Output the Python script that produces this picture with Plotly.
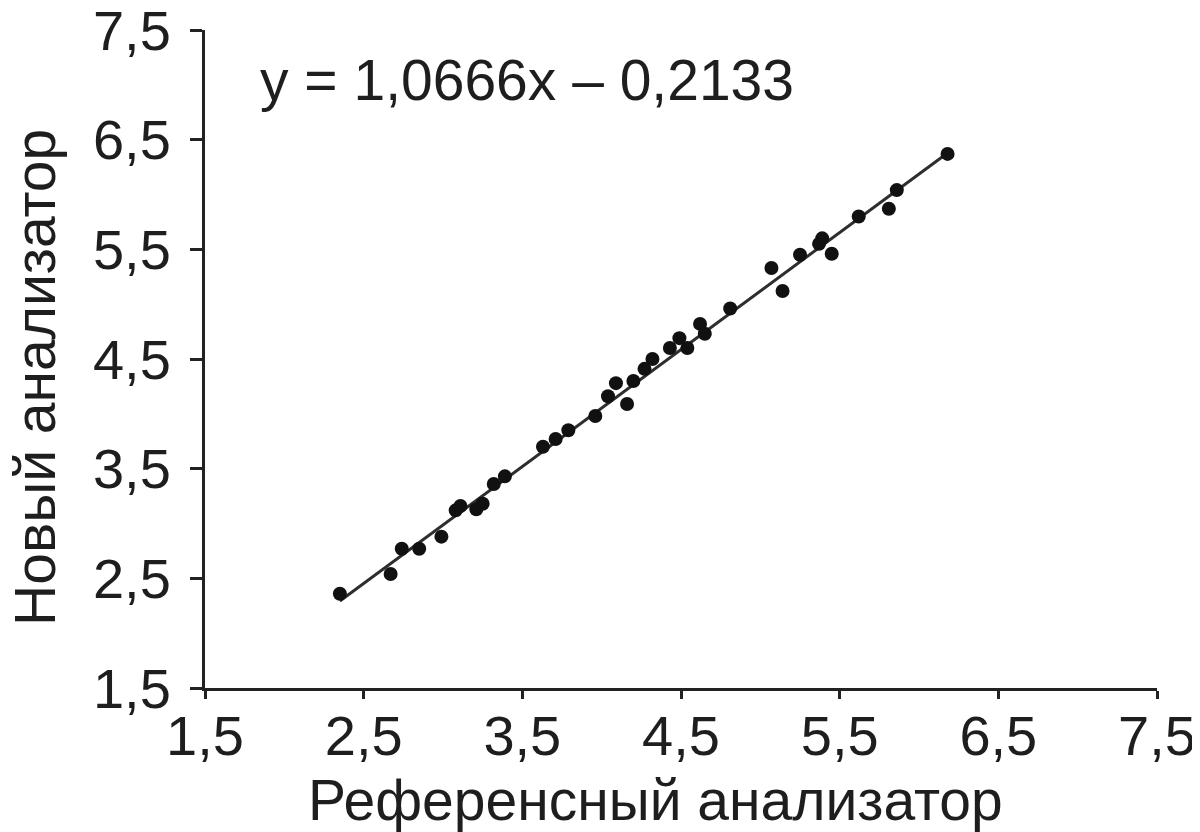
import plotly.graph_objects as go

ref_x = [2.35, 2.67, 2.74, 2.85, 2.99, 3.08, 3.11, 3.21, 3.25, 3.32, 3.39,
         3.63, 3.71, 3.79, 3.96, 4.04, 4.09, 4.16, 4.20, 4.27, 4.32, 4.43,
         4.49, 4.54, 4.62, 4.65, 4.81, 5.07, 5.14, 5.25, 5.37, 5.39, 5.45,
         5.62, 5.81, 5.86, 6.18]
new_y = [2.36, 2.54, 2.77, 2.77, 2.88, 3.12, 3.16, 3.13, 3.18, 3.36, 3.43,
         3.70, 3.77, 3.85, 3.98, 4.16, 4.28, 4.09, 4.30, 4.41, 4.50, 4.60,
         4.69, 4.60, 4.82, 4.73, 4.96, 5.33, 5.12, 5.45, 5.55, 5.60, 5.46,
         5.80, 5.87, 6.04, 6.37]
slope = 1.0666
intercept = -0.2133
tick_vals = [1.5, 2.5, 3.5, 4.5, 5.5, 6.5, 7.5]
tick_text = ["1,5", "2,5", "3,5", "4,5", "5,5", "6,5", "7,5"]

line_x = [min(ref_x), max(ref_x)]
line_y = [slope * v + intercept for v in line_x]

FONT = "Liberation Sans, Arial, sans-serif"
TXT = "#1e1e1e"

fig = go.Figure()
fig.add_trace(go.Scatter(x=line_x, y=line_y, mode="lines",
                         line=dict(color="#2e2e2e", width=3),
                         showlegend=False, hoverinfo="skip"))
fig.add_trace(go.Scatter(x=ref_x, y=new_y, mode="markers",
                         marker=dict(color="#111111", size=14),
                         showlegend=False))

axis_common = dict(range=[1.5, 7.5], tickvals=tick_vals, ticktext=tick_text,
                   showgrid=False, zeroline=False, showline=True,
                   linecolor="#222222", linewidth=3, ticks="outside",
                   tickwidth=2.5, tickcolor="#222222",
                   automargin=False, ticklabeloverflow="allow",
                   tickfont=dict(family=FONT, size=56, color=TXT))

fig.update_xaxes(**axis_common, ticklen=8, ticklabelstandoff=-11)
fig.update_yaxes(**axis_common, ticklen=12, ticklabelstandoff=8)

fig.add_annotation(text="y = 1,0666x – 0,2133", xref="paper", yref="paper",
                   x=0.0557, y=0.924, xanchor="left", yanchor="middle",
                   showarrow=False,
                   font=dict(family=FONT, size=57, color=TXT))
fig.add_annotation(text="Референсный анализатор", xref="paper", yref="paper",
                   x=0.473, y=-0.170, xanchor="center", yanchor="middle",
                   showarrow=False,
                   font=dict(family=FONT, size=57, color=TXT))
fig.add_annotation(text="Новый анализатор", xref="paper", yref="paper",
                   x=-0.178, y=0.472, xanchor="center", yanchor="middle",
                   textangle=-90, showarrow=False,
                   font=dict(family=FONT, size=57, color=TXT))

fig.update_layout(width=1192, height=824, plot_bgcolor="white",
                  paper_bgcolor="white",
                  margin=dict(l=197, r=43, t=22, b=144))

fig.write_html("out.html")
